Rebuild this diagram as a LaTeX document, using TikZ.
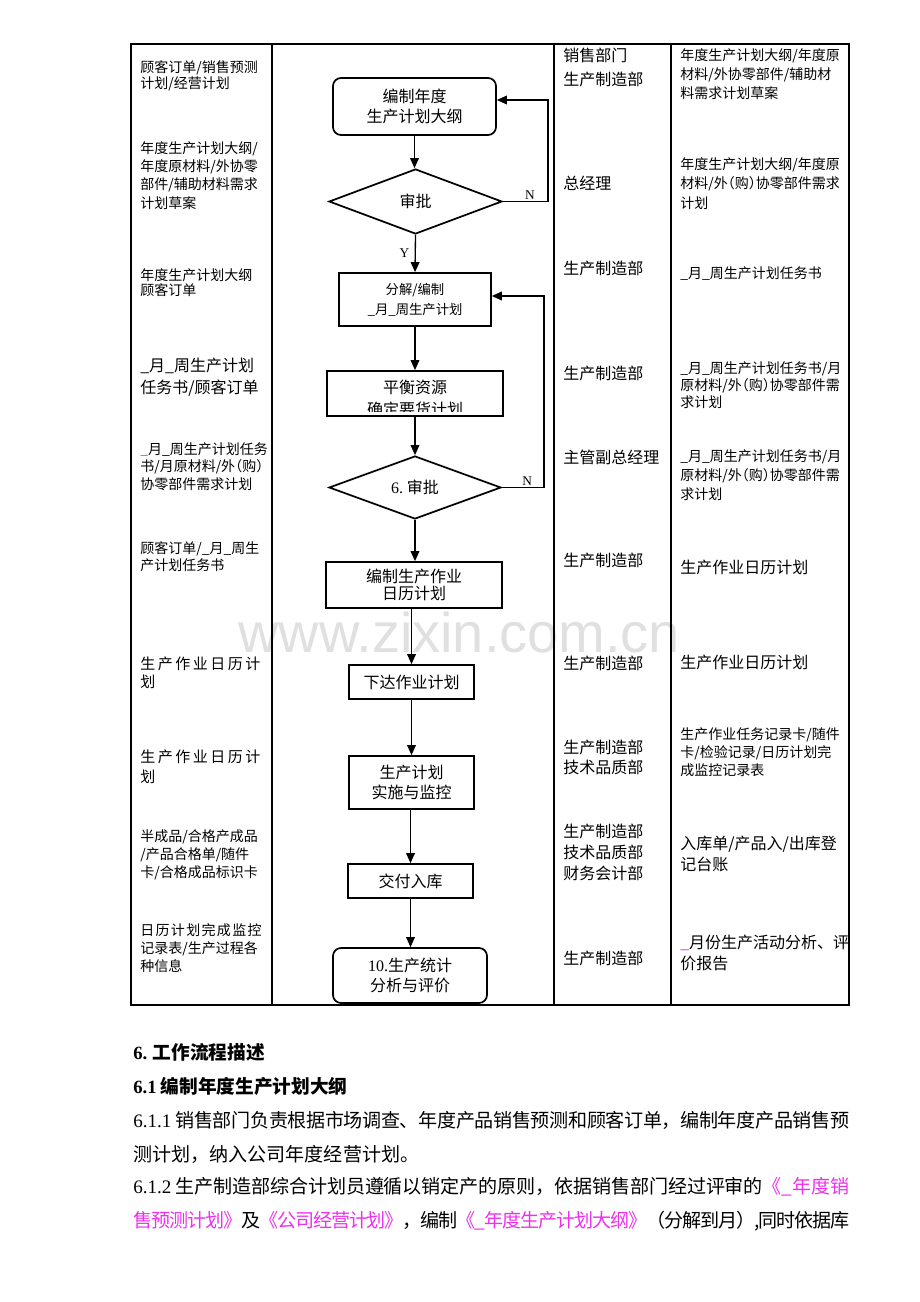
\documentclass[tikz,border=0pt]{standalone}
\usepackage{fontspec}
\usetikzlibrary{arrows.meta,shapes.geometric}
\setmainfont{Liberation Serif}
\setsansfont{Liberation Sans}
\newfontfamily\cjk{Noto Sans CJK SC}
\newfontfamily\cjkh{Noto Sans CJK SC}[RawFeature=+halt]
\definecolor{mag}{RGB}{238,48,238}
\makeatletter
\newcommand\lsp[2]{\def\lsp@g{#1}\@tfor\lsp@c:=#2\do{\lsp@c\hskip\lsp@g\relax}}
\newcommand\jtg{\hskip 0pt plus 1fil minus 2pt\relax}
\newcommand\jt[1]{\@tfor\jt@c:=#1\do{\jt@c\jtg}\unskip}
\makeatother
\tikzset{
  sz/.style 2 args={minimum width=#1*0.75pt, minimum height=#2*0.75pt},
  fbox/.style={draw, line width=1.3pt, inner sep=0pt, align=center, font=\cjk\fontsize{12}{15}\selectfont},
  rfbox/.style={fbox, rounded corners=6pt},
  dia/.style={draw, diamond, line width=1.3pt, inner sep=0pt, font=\cjk\fontsize{12}{15}\selectfont},
  arr/.style={line width=1pt, -{Triangle[length=7.5pt,width=6.5pt]}},
  tbl/.style={line width=1.1pt},
  cellf/.style 2 args={anchor=north west, inner sep=0pt, align=left, font=\cjk\fontsize{#1}{#2}\selectfont},
  cellh/.style 2 args={anchor=north west, inner sep=0pt, align=left, font=\cjkh\fontsize{#1}{#2}\selectfont},
  yn/.style={font=\rmfamily\fontsize{10}{12}\selectfont, inner sep=1pt},
  body/.style={anchor=west, inner sep=0pt, font=\cjk\fontsize{14.3}{17}\selectfont},
  hdr/.style={anchor=west, inner sep=0pt, font=\cjk\bfseries\fontsize{14}{17}\selectfont}
}
\begin{document}
\begin{tikzpicture}[x=0.75pt,y=-0.75pt]
\useasboundingbox (0,0) rectangle (920,1302);
% watermark
\node[anchor=base west, inner sep=0pt, font=\sffamily\fontsize{42}{42}\selectfont, text=black!12] (wm) at (238,652) {www.zixin.com.cn};
% table
\draw[tbl] (131,44) rectangle (849,1005);
\draw[tbl] (272,44) -- (272,1005);
\draw[tbl] (554,44) -- (554,1005);
\draw[tbl] (671,44) -- (671,1005);
% flow nodes
\node[rfbox, sz={163}{57}] (b1) at (414.5,106.5) {编制年度\\生产计划大纲};
\node[dia, sz={173}{65}] (d2) at (415.5,201.5) {审批};
\node[fbox, sz={152}{53}, font=\cjk\fontsize{10}{15}\selectfont] (b3) at (415,299.5) {分解/编制\\\_月\_周生产计划};
\begin{scope}
  \clip (328,372) rectangle (502,411);
  \node[inner sep=0pt, align=center, font=\cjk\fontsize{12}{16.5}\selectfont] (b4t) at (415,398) {平衡资源\\确定要货计划};
\end{scope}
\node[fbox, sz={176}{45}] (b4) at (415,393.5) {};
\node[dia, sz={172}{63}] (d5) at (415,487.5) {\textrm{6.}~审批};
\node[fbox, sz={176}{46}, font=\cjk\fontsize{12}{13.25}\selectfont] (b6) at (414,585) {编制生产作业\\日历计划};
\node[fbox, sz={125}{34}] (b7) at (411.5,682) {下达作业计划};
\node[fbox, sz={125}{53}] (b8) at (411.5,782.5) {生产计划\\实施与监控};
\node[fbox, sz={125}{34}] (b9) at (410.5,881) {交付入库};
\node[rfbox, sz={154}{55}] (b10) at (410,975.5) {\textrm{10.}生产统计\\分析与评价};
% connectors
\draw[arr] (b1.south) -- (d2.north -| b1.south);
\draw[arr] (d2.south) -- node[yn, left=3pt]{Y} (b3.north);
\draw[arr] (b3.south) -- (b4.north);
\draw[arr] (b4.south) -- (d5.north);
\draw[arr] (d5.south) -- (b6.north -| d5.south);
\draw[arr] (b6.south -| b7) -- (b7.north);
\draw[arr] (b7.south) -- (b8.north);
\draw[arr] (b8.south -| b9) -- (b9.north);
\draw[arr] (b9.south) -- (b10.north -| b9.south);
\coordinate (r1) at (548,100);
\draw[arr] (d2.east) -- node[yn, above, pos=0.6]{N} (d2.east -| r1) -- (r1) -- (b1.east |- r1);
\coordinate (r2) at (544,296);
\draw[arr] (d5.east) -- node[yn, above, pos=0.6]{N} (d5.east -| r2) -- (r2) -- (b3.east |- r2);
% left column
\node[cellf={10.5}{12}] (l1) at (140,60.5) {顾客订单/销售预测\\计划/经营计划};
\node[cellf={10.5}{13.75}] (l2) at (140,141) {年度生产计划大纲/\\年度原材料/外协零\\部件/辅助材料需求\\计划草案};
\node[cellf={10.5}{11.25}] (l3) at (140,268.7) {年度生产计划大纲\\顾客订单};
\node[cellf={12}{16.25}] (l4) at (140,358) {\_月\_周生产计划\\任务书/顾客订单};
\node[cellh={10.5}{13.4}] (l5) at (140,442) {\textcolor{mag}{\_}月\_周生产计划任务\\书/月原材料/外（购）\\协零部件需求计划};
\node[cellf={10.5}{13.3}] (l6) at (140,541) {顾客订单/\_月\_周生\\产计划任务书};
\node[cellf={11.25}{13.75}] (l7) at (140,656.5) {\lsp{1.9pt}{生产作业日历计}\\划};
\node[cellf={11.25}{14.5}] (l8) at (140,750) {\lsp{1.9pt}{生产作业日历计}\\划};
\node[cellf={10.5}{13.4}] (l9) at (140,829.7) {半成品/合格产成品\\/产品合格单/随件\\卡/合格成品标识卡};
\node[cellf={10.5}{13.5}] (l10) at (140,923.7) {\lsp{1pt}{日历计划完成监控}\\记录表/生产过程各\\种信息};
% third column
\node[cellf={12}{18}] (m1) at (563,48) {销售部门\\生产制造部};
\node[cellf={12}{15}] (m2) at (563,176) {总经理};
\node[cellf={12}{15}] (m3) at (563,261) {生产制造部};
\node[cellf={12}{15}] (m4) at (563,366) {生产制造部};
\node[cellf={12}{15}] (m5) at (563,450) {主管副总经理};
\node[cellf={12}{15}] (m6) at (563,553) {生产制造部};
\node[cellf={12}{15}] (m7) at (563,656) {生产制造部};
\node[cellf={12}{15}] (m8) at (563,740) {生产制造部\\技术品质部};
\node[cellf={12}{15.75}] (m9) at (563,824) {生产制造部\\技术品质部\\财务会计部};
\node[cellf={12}{15}] (m10) at (563,951) {生产制造部};
% fourth column
\node[cellf={10.5}{14.25}] (k1) at (680,48) {年度生产计划大纲/年度原\\材料/外协零部件/辅助材\\料需求计划草案};
\node[cellh={10.5}{14.6}] (k2) at (680,157) {年度生产计划大纲/年度原\\材料/外（购）协零部件需求\\计划};
\node[cellf={10.5}{14}] (k3) at (680,266) {\_月\_周生产计划任务书};
\node[cellh={10.5}{13.1}] (k4) at (680,361) {\_月\_周生产计划任务书/月\\原材料/外（购）协零部件需\\求计划};
\node[cellh={10.5}{14.25}] (k5) at (680,449) {\_月\_周生产计划任务书/月\\原材料/外（购）协零部件需\\求计划};
\node[cellf={12}{15}] (k6) at (680,560) {生产作业日历计划};
\node[cellf={12}{15}] (k7) at (680,655) {生产作业日历计划};
\node[cellf={10.5}{13.5}] (k8) at (680,727) {生产作业任务记录卡/随件\\卡/检验记录/日历计划完\\成监控记录表};
\node[cellf={12}{15.75}] (k9) at (680,836) {入库单/产品入/出库登\\记台账};
\node[cellf={12}{15.75}] (k10) at (680,935) {\textcolor{mag}{\_}月份生产活动分析、评\\价报告};
% body text
\node[hdr] (t1) at (133,1052) {\textrm{6.} 工作流程描述};
\node[hdr] (t2) at (133,1086) {\textrm{6.1} 编制年度生产计划大纲};
\node[body] (t3) at (133,1120) {\makebox[537pt][s]{\textrm{6.1.1} \jt{销售部门负责根据市场调查、年度产品销售预测和顾客订单，编制年度产品销售预}}};
\node[body] (t4) at (133,1154) {测计划，纳入公司年度经营计划。};
\node[body] (t5) at (133,1187) {\makebox[537pt][s]{\textrm{6.1.2} \jt{生产制造部综合计划员遵循以销定产的原则，依据销售部门经过评审的}\jtg\textcolor{mag}{\jt{《\_年度销}}}};
\node[body] (t6) at (133,1221) {\makebox[537pt][s]{\textcolor{mag}{\jt{售预测计划》}}\jtg\jt{及}\jtg\textcolor{mag}{\jt{《公司经营计划》}}\jtg\jt{，编制}\jtg\textcolor{mag}{\jt{《\_年度生产计划大纲》}}\jtg\jt{（分解到月）,同时依据库}}};
\end{tikzpicture}
\end{document}
